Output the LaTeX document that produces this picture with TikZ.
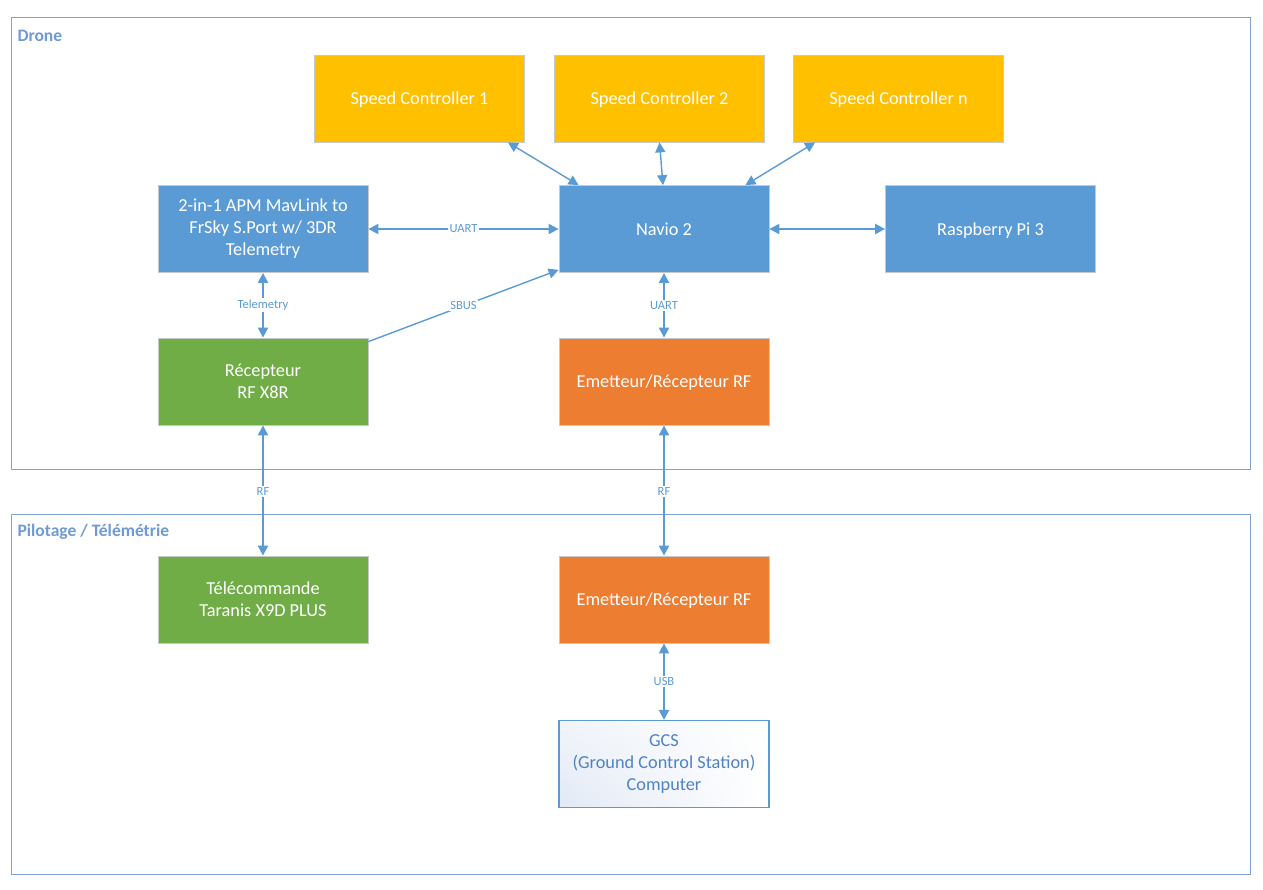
\documentclass[tikz,border=0pt]{standalone}
\usepackage{fontspec}
\setmainfont{Carlito}
\usetikzlibrary{arrows.meta,calc,shadings}
\definecolor{cyel}{HTML}{FFC000}
\definecolor{cblue}{HTML}{5B9BD5}
\definecolor{cgreen}{HTML}{70AD47}
\definecolor{corange}{HTML}{ED7D31}
\definecolor{cframe}{HTML}{7FA2CE}
\definecolor{cflabel}{HTML}{6F9BD2}
\definecolor{cline}{HTML}{5B9BD5}
\definecolor{cgcs}{HTML}{5083C4}
\definecolor{cgcsfill}{HTML}{E2E9F5}
\definecolor{cgcsmid}{HTML}{F1F4FA}
\definecolor{cedge}{HTML}{C8C8C8}
\tikzset{
  x=1pt, y=-1pt,
  box/.style={draw=cedge, line width=0.8pt, minimum width=210pt, minimum height=87pt,
    inner sep=0pt, align=center, text=white, font=\fontsize{18.3}{22}\selectfont},
  one/.style={text depth=0pt},
  frame/.style={draw=cframe, line width=1pt},
  flabel/.style={anchor=west, text=cflabel, font=\fontsize{17.5}{20}\selectfont\bfseries},
  conn/.style={draw=cline, line width=2.2pt, {Triangle[length=10pt,width=10pt]}-{Triangle[length=10pt,width=10pt]}},
  thin conn/.style={draw=cline, line width=1.4pt, {Triangle[length=10pt,width=10pt]}-{Triangle[length=10pt,width=10pt]}},
  clabel/.style={fill=white, inner sep=1.5pt, text=cline, font=\fontsize{12.5}{14}\selectfont},
}
\begin{document}
\begin{tikzpicture}
\useasboundingbox (0,0) rectangle (1263,889);
\fill[white] (0,0) rectangle (1263,889);

% frames
\draw[frame] (11,17) rectangle (1250,469);
\node[flabel] (ldrone) at (14,36) {Drone};
\draw[frame] (11,514) rectangle (1250,874);
\node[flabel] (lpilot) at (14,532) {Pilotage / Télémétrie};

% boxes
\node[box, one, fill=cyel] (sc1) at (419.5,98.5) {Speed Controller 1};
\node[box, one, fill=cyel] (sc2) at (659.5,98.5) {Speed Controller 2};
\node[box, one, fill=cyel] (scn) at (898.5,98.5) {Speed Controller n};
\node[box, fill=cblue] (apm) at (263,229) {2-in-1 APM MavLink to\\FrSky S.Port w/ 3DR\\Telemetry};
\node[box, one, fill=cblue] (navio) at (664,229) {Navio 2};
\node[box, one, fill=cblue] (rpi) at (990.5,229) {Raspberry Pi 3};
\node[box, fill=cgreen] (rx) at (263,381.5) {Récepteur\\RF X8R};
\node[box, one, fill=corange] (erd) at (664,381.5) {Emetteur/Récepteur RF};
\node[box, fill=cgreen] (tele) at (263,599.5) {Télécommande\\Taranis X9D PLUS};
\node[box, one, fill=corange] (erg) at (664,599.5) {Emetteur/Récepteur RF};
\node[box, draw=cline, line width=1.2pt, text=cgcs, upper left=cgcsmid, lower left=cgcsfill, upper right=white, lower right=white] (gcs) at (664,764) {GCS\\(Ground Control Station)\\Computer};

% connectors
\draw[thin conn] ($(sc1.south east)+(-17,0)$) -- ($(navio.north west)+(20,0)$);
\draw[thin conn] (sc2.south) -- ($(navio.north)+(-1,0)$);
\draw[thin conn] ($(scn.south west)+(22,0)$) -- ($(navio.north east)+(-24,0)$);
\draw[conn] (apm.east) -- node[clabel] (luart1) {UART} (navio.east -| navio.west);
\draw[conn] (navio.east) -- (rpi.west);
\draw[conn] (apm.south) -- node[clabel] (ltel) {Telemetry} (rx.north);
\draw[draw=cline, line width=1.4pt, -{Triangle[length=10pt,width=10pt]}] ($(rx.north east)+(0,4)$) -- node[clabel, pos=0.5] (lsbus) {SBUS} ($(navio.south west)+(0,-3)$);
\draw[conn] (navio.south) -- node[clabel] (luart2) {UART} (erd.north);
\draw[conn] (rx.south) -- node[clabel, pos=0.51] (lrf1) {RF} (tele.north);
\draw[conn] (erd.south) -- node[clabel, pos=0.51] (lrf2) {RF} (erg.north);
\draw[conn] (erg.south) -- node[clabel] (lusb) {USB} (gcs.north);
\end{tikzpicture}
\end{document}
